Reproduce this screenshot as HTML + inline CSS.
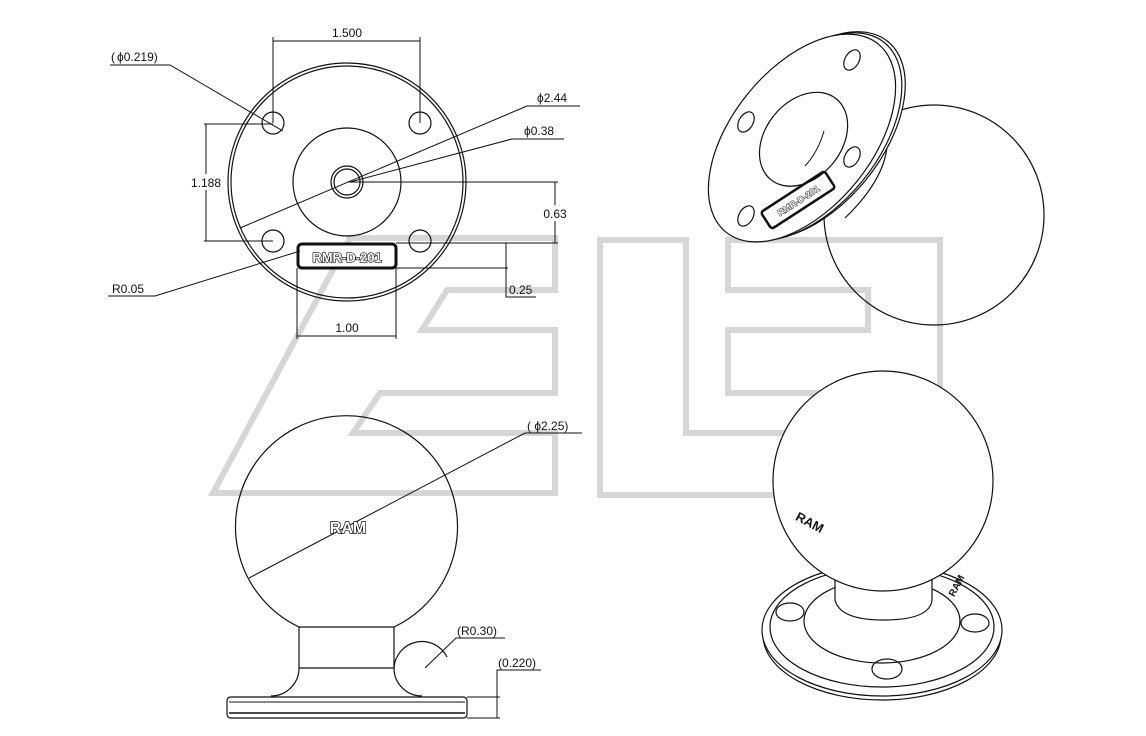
<!DOCTYPE html>
<html><head><meta charset="utf-8"><style>
html,body{margin:0;padding:0;background:#fff}
svg{display:block}
text{font-family:"Liberation Sans",Arial,sans-serif;font-size:12px;fill:#111}
</style></head><body>
<svg width="1146" height="736" viewBox="0 0 1146 736" xmlns="http://www.w3.org/2000/svg">
<rect width="1146" height="736" fill="#fff"/>
<g fill="none" stroke="#d6d6d6" stroke-width="6" stroke-linejoin="miter">
<polygon points="350,238 555,238 555,290 447,290 422,330 555,330 555,393 380,393 353,433 555,433 555,493 213,493"/>
<polygon points="600,240 686,240 686,433 823,433 823,495 600,495"/>
<polygon points="728,240 940,240 940,495 868,495 868,393 728,393 728,330 868,330 868,290 728,290"/>
</g>

<g fill="none" stroke="#111" stroke-width="1.2">
<circle cx="347" cy="182" r="119"/>
<circle cx="347" cy="182" r="116"/>
<circle cx="347" cy="182" r="54"/>
<circle cx="347" cy="182" r="16"/>
<circle cx="347" cy="182" r="13"/>
<circle cx="273" cy="123" r="11"/>
<circle cx="420" cy="123" r="11"/>
<circle cx="273" cy="241" r="11"/>
<circle cx="420" cy="241" r="11"/>
<rect x="298" y="244" width="98" height="24" rx="4" stroke-width="3" fill="#fff"/>
<line x1="273" y1="37" x2="273" y2="123" stroke-width="1"/>
<line x1="420" y1="37" x2="420" y2="123" stroke-width="1"/>
<line x1="273" y1="41" x2="420" y2="41" stroke-width="1"/>
<polyline points="110,65 170,65 283,131" stroke-width="1"/>
<polyline points="580,106 527,106 240,228" stroke-width="1"/>
<polyline points="564,139 512,139 350,182" stroke-width="1"/>
<line x1="204" y1="124" x2="273" y2="124" stroke-width="1"/>
<line x1="204" y1="241" x2="273" y2="241" stroke-width="1"/>
<line x1="206" y1="124" x2="206" y2="241" stroke-width="1"/>
<line x1="347" y1="182" x2="558" y2="182" stroke-width="1"/>
<line x1="396" y1="243" x2="558" y2="243" stroke-width="1"/>
<line x1="555" y1="182" x2="555" y2="243" stroke-width="1"/>
<line x1="396" y1="268" x2="508" y2="268" stroke-width="1"/>
<polyline points="506,243 506,297 536,297" stroke-width="1"/>
<polyline points="108,296 155,296 300,251" stroke-width="1"/>
<line x1="297" y1="268" x2="297" y2="339" stroke-width="1"/>
<line x1="396" y1="268" x2="396" y2="339" stroke-width="1"/>
<line x1="297" y1="336" x2="396" y2="336" stroke-width="1"/>

<path d="M299,627 A111,111 0 1 1 394,627"/>
<line x1="299" y1="627" x2="394" y2="627"/>
<line x1="299" y1="627" x2="299" y2="668"/>
<line x1="394" y1="627" x2="394" y2="668"/>
<line x1="299" y1="668" x2="394" y2="668"/>
<path d="M299,668 A28,28 0 0 1 271,696"/>
<path d="M394,668 A28,28 0 0 1 447,657"/>
<path d="M394,668 A28,28 0 0 0 422,696"/>
<path d="M231,697 H463 Q467,697 467,701 V714 Q467,718 463,718 H231 Q227,718 227,714 V701 Q227,697 231,697 Z"/>
<line x1="229" y1="702" x2="465" y2="702" stroke-width="1"/>
<line x1="229" y1="713" x2="465" y2="713" stroke-width="1.6"/>
<polyline points="582,433 525,433 249,578" stroke-width="1"/>
<polyline points="505,638 456,638 425,668" stroke-width="1"/>
<line x1="467" y1="697" x2="500" y2="697" stroke-width="1"/>
<line x1="467" y1="718" x2="500" y2="718" stroke-width="1"/>
<polyline points="497,718 497,670 541,670" stroke-width="1"/>

<circle cx="934" cy="215" r="110"/>
<path d="M880,110 Q905,160 845,218" fill="#fff"/>
<g transform="translate(802,138) rotate(-51)">
<ellipse cx="8" cy="6" rx="121" ry="70" fill="#fff"/>
<ellipse cx="5" cy="4" rx="121" ry="70" fill="#fff"/>
<ellipse cx="0" cy="0" rx="121" ry="70" fill="#fff"/>
<ellipse cx="0" cy="2" rx="52" ry="38"/>
</g>
<ellipse cx="852" cy="60" rx="7" ry="11" transform="rotate(30 852 60)"/>
<ellipse cx="746" cy="122" rx="7" ry="11" transform="rotate(30 746 122)"/>
<ellipse cx="852" cy="157" rx="7" ry="11" transform="rotate(30 852 157)"/>
<ellipse cx="746" cy="216" rx="7" ry="11" transform="rotate(30 746 216)"/>
<path d="M824,131 Q818,152 805,166" stroke-width="1"/>
<rect x="760" y="190" width="76" height="20" rx="3" transform="rotate(-33 798 200)" stroke-width="2.5"/>

<ellipse cx="882" cy="635" rx="119" ry="65"/>
<ellipse cx="882" cy="630" rx="120" ry="66" fill="#fff"/>
<ellipse cx="882" cy="627" rx="112" ry="60"/>
<ellipse cx="882" cy="621" rx="78" ry="42"/>
<ellipse cx="790" cy="612" rx="14" ry="9"/>
<ellipse cx="975" cy="623" rx="14" ry="9"/>
<ellipse cx="887" cy="669" rx="15" ry="10"/>
<path d="M835,580 L835,600 Q840,620 883,620 Q930,620 932,600 L932,580" fill="#fff"/>
<circle cx="883" cy="481" r="110" fill="#fff"/>
</g>

<text x="347" y="37" text-anchor="middle">1.500</text>
<text x="111" y="61">(<tspan dx="2">ϕ0.219</tspan>)</text>
<text x="537" y="102">ϕ2.44</text>
<text x="524" y="135">ϕ0.38</text>
<rect x="188" y="174" width="36" height="16" fill="#fff"/>
<text x="206" y="187" text-anchor="middle">1.188</text>
<rect x="541" y="205" width="28" height="16" fill="#fff"/>
<text x="555" y="218" text-anchor="middle">0.63</text>
<text x="509" y="294">0.25</text>
<text x="112" y="293">R0.05</text>
<text x="347" y="332" text-anchor="middle">1.00</text>
<text x="347" y="262" text-anchor="middle" style="font-weight:bold;font-size:13px;fill:#fff;stroke:#111;stroke-width:1.3;paint-order:stroke">RMR-D-201</text>
<text x="348" y="533" text-anchor="middle" style="font-weight:bold;font-size:16px;fill:#fff;stroke:#111;stroke-width:1.4;paint-order:stroke">RAM</text>
<text x="527" y="430">( ϕ2.25)</text>
<text x="457" y="635">(R0.30)</text>
<text x="498" y="667">(0.220)</text>
<text x="810" y="527" text-anchor="middle" transform="rotate(28 810 522)" style="font-weight:bold;font-size:13px">RAM</text>
<text x="955" y="590" text-anchor="middle" transform="rotate(-62 955 585)" style="font-weight:bold;font-size:10px">RAM</text>
<text x="798" y="204" text-anchor="middle" transform="rotate(-33 798 200)" style="font-weight:bold;font-size:9px;fill:#fff;stroke:#111;stroke-width:0.9;paint-order:stroke">RMR-D-201</text>
</svg>
</body></html>
